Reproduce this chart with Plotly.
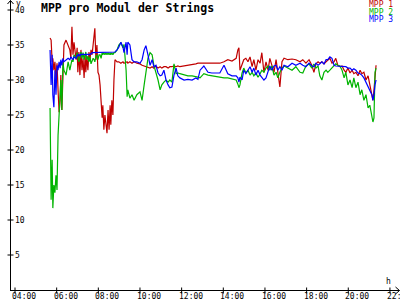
import plotly.graph_objects as go

# ---------------- data ----------------
times = ["05:41","05:44","05:47","05:49","05:52","05:55","05:58","06:01","06:04","06:07",
"06:10","06:12","06:15","06:18","06:21","06:27","06:33","06:38","06:41","06:44",
"06:47","06:50","06:56","06:59","07:01","07:04","07:07","07:10","07:13","07:16",
"07:19","07:22","07:24","07:27","07:30","07:33","07:36","07:39","07:42","07:45",
"07:48","07:50","07:53","07:56","07:59","08:02","08:05","08:08","08:11","08:13",
"08:16","08:19","08:22","08:25","08:28","08:31","08:34","08:36","08:39","08:42",
"08:45","08:48","08:54","08:59","09:05","09:11","09:14","09:20","09:23","09:25",
"09:31","09:37","09:43","09:51","10:00","10:06","10:12","10:17","10:23","10:29",
"10:35","10:40","10:46","10:52","10:58","11:03","11:09","11:15","11:21","11:26",
"11:32","11:38","11:44","11:49","11:55","12:07","12:18","12:30","12:41","12:47",
"12:53","13:04","13:16","13:27","13:39","13:50","14:02","14:13","14:25","14:37",
"14:42","14:45","14:48","14:54","14:59","15:05","15:11","15:17","15:23","15:28",
"15:34","15:40","15:46","15:51","15:57","16:03","16:09","16:14","16:20","16:26",
"16:32","16:37","16:43","16:49","16:55","17:06","17:18","17:29","17:41","17:49",
"17:58","18:07","18:15","18:21","18:27","18:33","18:38","18:44","18:50","18:56",
"19:01","19:07","19:13","19:19","19:24","19:30","19:36","19:42","19:48","19:53",
"19:59","20:05","20:11","20:16","20:22","20:28","20:34","20:39","20:45","20:51",
"20:57","21:02","21:08","21:11","21:14","21:17","21:20"]

mpp1 = [36.0,35.7,32.6,33.1,31.4,32.6,30.0,32.4,28.6,25.4,
27.1,30.7,25.7,32.9,35.0,35.7,35.0,34.3,33.1,37.6,
33.6,35.4,32.9,34.6,31.1,34.0,30.7,34.3,31.4,33.1,
30.3,33.6,31.1,33.3,31.4,34.0,32.9,34.3,33.6,35.0,
35.7,37.4,32.9,35.0,31.1,30.7,29.3,27.1,24.6,26.4,
22.9,25.0,23.6,22.4,25.7,22.9,26.4,23.6,27.1,25.0,
30.0,32.9,32.6,32.6,32.4,32.6,32.4,32.6,32.6,32.4,
32.6,32.4,32.6,32.4,32.3,32.1,32.0,32.0,31.9,31.7,
31.9,31.7,32.0,31.7,31.9,31.7,31.9,31.9,31.7,31.9,
31.9,32.0,31.9,32.0,31.9,32.0,32.0,32.1,32.3,32.4,
32.4,32.3,32.4,32.3,32.4,32.4,32.6,32.9,32.7,33.1,
34.3,34.6,31.4,32.1,32.9,33.1,32.6,33.3,31.9,32.9,
31.4,32.9,32.4,33.9,31.1,32.6,31.4,33.1,32.1,31.1,
32.9,30.7,29.0,32.6,33.1,32.9,33.0,32.9,32.6,32.9,
32.4,32.9,32.1,31.1,32.3,32.6,32.4,32.6,32.3,32.6,
32.9,33.1,32.4,32.6,33.1,32.1,31.9,32.0,31.4,31.1,
31.7,31.0,31.4,30.9,31.1,30.6,31.4,30.9,31.1,30.0,
30.6,29.3,27.6,27.1,28.6,30.7,32.1]

mpp2 = [26.0,12.9,18.6,11.7,15.0,13.9,16.4,14.3,22.1,24.3,
27.9,30.0,25.7,32.6,31.4,30.7,32.6,31.4,32.1,32.9,
32.6,33.6,33.1,33.9,33.3,32.6,33.4,34.0,33.1,33.9,
32.9,33.4,34.0,32.9,33.4,32.6,33.3,32.3,32.6,33.1,
32.9,32.6,33.4,33.6,32.9,33.6,33.6,33.1,33.9,33.6,
33.9,33.6,33.9,33.6,33.9,33.6,33.9,33.6,33.9,33.6,
33.9,33.9,34.3,35.0,35.3,34.6,35.1,31.4,27.6,28.6,
27.4,27.9,27.1,27.9,28.3,27.1,29.3,31.4,33.1,33.9,
33.6,32.1,31.1,30.0,28.6,29.3,29.7,30.0,29.7,30.0,
29.7,32.3,30.9,31.0,30.9,30.7,30.6,30.6,30.4,30.4,
30.3,30.9,30.7,30.6,30.4,30.4,30.3,30.3,30.1,30.0,
29.4,28.9,29.3,31.0,31.7,31.0,31.4,30.7,31.1,30.6,
31.0,30.4,30.9,31.4,31.1,31.7,32.0,31.4,32.0,30.7,
31.1,30.3,31.1,31.7,32.0,31.7,31.4,31.9,31.1,31.0,
32.0,32.3,31.7,32.3,31.7,32.0,30.6,30.0,31.1,31.4,
31.1,31.4,31.7,32.1,32.3,32.1,32.0,31.4,30.3,31.1,
29.3,30.0,28.9,30.3,28.9,29.7,27.9,28.6,27.1,27.9,
26.0,26.4,25.0,24.0,24.6,31.1,31.7]

mpp3 = [34.3,29.3,33.6,27.9,26.1,31.4,27.9,32.1,31.4,32.6,
31.7,32.9,32.1,33.1,32.6,32.9,33.1,32.9,33.3,33.1,
32.9,33.3,33.1,33.6,33.4,33.7,33.4,33.7,33.6,33.7,
33.6,33.6,33.7,33.6,33.7,33.6,33.7,33.7,33.9,33.9,
33.9,34.0,33.9,33.9,34.0,33.9,33.9,34.0,33.9,33.9,
34.0,33.9,34.0,33.9,34.0,33.9,34.0,33.9,34.0,33.9,
34.0,34.0,34.3,34.7,35.4,34.7,33.9,35.4,33.6,35.4,
35.0,32.9,32.6,32.6,32.4,32.9,34.3,34.9,33.6,32.1,
32.9,31.9,32.1,31.0,30.6,30.7,31.4,30.0,29.3,28.9,
29.0,30.7,31.7,30.6,30.3,30.0,30.1,30.0,30.3,30.1,
31.4,32.0,31.1,31.0,31.0,31.0,32.1,30.9,30.6,30.6,
30.3,29.7,30.4,30.0,31.4,30.9,31.4,31.9,31.1,31.7,
30.7,31.4,30.7,30.4,30.0,30.3,31.1,32.0,31.4,32.0,
32.1,31.4,31.9,31.4,32.1,31.9,32.4,32.1,32.4,32.1,
31.9,32.4,32.0,31.9,32.4,32.1,32.3,32.6,32.3,32.9,
32.9,33.3,33.1,32.1,32.0,32.0,32.0,32.0,32.0,31.9,
31.7,31.7,31.4,31.6,31.4,31.0,30.9,30.7,30.3,29.7,
28.9,28.6,27.9,27.1,27.9,29.3,30.0]

series_names = ["MPP 1", "MPP 2", "MPP 3"]
series_colors = ["#c00000", "#00b400", "#0000ff"]
title_text = "MPP pro Modul der Strings"
x_tick_hours = [4, 6, 8, 10, 12, 14, 16, 18, 20, 22]
x_tick_labels = ["04:00", "06:00", "08:00", "10:00", "12:00", "14:00", "16:00", "18:00", "20:00", "22:00"]
y_tick_values = [5, 10, 15, 20, 25, 30, 35, 40]
y_tick_labels = ["5", "10", "15", "20", "25", "30", "35", "40"]
y_unit = "V"
x_unit = "h"

# ---------------- layout geometry ----------------
W, H = 400, 300
X0_PX, PX_PER_H = 15.0, 20.83      # 04:00 at px 15
Y0_PX, PX_PER_V = 290.0, 7.0       # 0 V at px 290
AX_X = 10.5                        # y-axis line pixel column

def hours(s):
    h, m = s.split(":")
    return int(h) + int(m) / 60.0

def px(x):
    return x / W

def py(y):
    return 1 - y / H

xs = [hours(t) for t in times]
x_range = [4 - X0_PX / PX_PER_H, 4 + (W - X0_PX) / PX_PER_H]
y_range = [-(H - Y0_PX) / PX_PER_V, Y0_PX / PX_PER_V]

fig = go.Figure()
for name, vals, col in zip(series_names, [mpp1, mpp2, mpp3], series_colors):
    fig.add_trace(go.Scatter(x=xs, y=vals, mode="lines", name=name,
                             line=dict(color=col, width=1.2), showlegend=False))

shapes = []
blk = dict(color="black", width=1)
# axes
shapes.append(dict(type="line", xref="paper", yref="paper", x0=px(AX_X), x1=px(AX_X),
                   y0=py(291), y1=py(0.5), line=blk))
shapes.append(dict(type="line", xref="paper", yref="paper", x0=px(10), x1=px(399.5),
                   y0=py(290.5), y1=py(290.5), line=blk))
# arrow heads
shapes.append(dict(type="line", xref="paper", yref="paper", x0=px(AX_X), x1=px(7.5),
                   y0=py(0.5), y1=py(4), line=blk))
shapes.append(dict(type="line", xref="paper", yref="paper", x0=px(AX_X), x1=px(13.5),
                   y0=py(0.5), y1=py(4), line=blk))
shapes.append(dict(type="line", xref="paper", yref="paper", x0=px(399.5), x1=px(395.5),
                   y0=py(290.5), y1=py(287), line=blk))
shapes.append(dict(type="line", xref="paper", yref="paper", x0=px(399.5), x1=px(395.5),
                   y0=py(290.5), y1=py(294), line=blk))
# ticks
for v in y_tick_values:
    shapes.append(dict(type="line", xref="paper", yref="y", x0=px(7.5), x1=px(13.5),
                       y0=v, y1=v, line=blk))
for h in x_tick_hours:
    shapes.append(dict(type="line", xref="x", yref="paper", x0=h, x1=h,
                       y0=py(287.5), y1=py(293.5), line=blk))

mono = "DejaVu Sans Mono"
ann = []
for h, lab in zip(x_tick_hours, x_tick_labels):
    ann.append(dict(x=h, xref="x", y=py(296), yref="paper", text=lab, showarrow=False,
                    xanchor="left", yanchor="middle", xshift=-5,
                    font=dict(family=mono, size=8, color="black")))
for v, lab in zip(y_tick_values, y_tick_labels):
    ann.append(dict(x=px(13), xref="paper", y=v, yref="y", text=lab, showarrow=False,
                    xanchor="left", yanchor="middle",
                    font=dict(family=mono, size=8, color="black")))
ann.append(dict(x=px(14), xref="paper", y=py(3), yref="paper", text=y_unit.lower(),
                showarrow=False, xanchor="left", yanchor="middle",
                font=dict(family=mono, size=8, color="black")))
ann.append(dict(x=px(384), xref="paper", y=py(281), yref="paper", text=x_unit,
                showarrow=False, xanchor="left", yanchor="middle",
                font=dict(family=mono, size=8, color="black")))
ann.append(dict(x=px(39), xref="paper", y=py(7.5), yref="paper", text="<b>" + title_text + "</b>",
                showarrow=False, xanchor="left", yanchor="middle",
                font=dict(family=mono, size=11.5, color="black")))
for i, (name, col) in enumerate(zip(series_names, series_colors)):
    ann.append(dict(x=px(395), xref="paper", y=py(4.5 + 7.5 * i), yref="paper", text=name,
                    showarrow=False, xanchor="right", yanchor="middle",
                    font=dict(family=mono, size=8, color=col)))

fig.update_layout(
    width=W, height=H, autosize=False,
    margin=dict(l=0, r=0, t=0, b=0, pad=0),
    paper_bgcolor="white", plot_bgcolor="white",
    xaxis=dict(range=x_range, visible=False, fixedrange=True),
    yaxis=dict(range=y_range, visible=False, fixedrange=True),
    shapes=shapes, annotations=ann, showlegend=False,
)
fig.write_html("out.html")
